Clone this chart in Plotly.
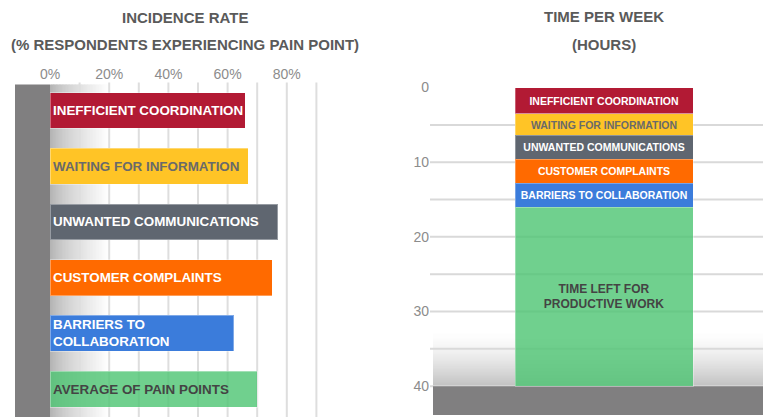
import plotly.graph_objects as go

# ---------------- data ----------------
pain_keys = ["coord", "waiting", "unwanted", "complaints", "barriers", "average"]
pain_labels = ["INEFFICIENT COORDINATION", "WAITING FOR INFORMATION",
               "UNWANTED COMMUNICATIONS", "CUSTOMER COMPLAINTS",
               "BARRIERS TO<br>COLLABORATION", "AVERAGE OF PAIN POINTS"]
incidence_pct = [66, 67, 77, 75, 62, 70]

time_labels = ["INEFFICIENT COORDINATION", "WAITING FOR INFORMATION",
               "UNWANTED COMMUNICATIONS", "CUSTOMER COMPLAINTS",
               "BARRIERS TO COLLABORATION", "TIME LEFT FOR<br>PRODUCTIVE WORK"]
hours_per_week = [3.5, 2.9, 3.2, 3.2, 3.2, 24.0]

pct_ticks = [0, 20, 40, 60, 80]
pct_tick_labels = ["0%", "20%", "40%", "60%", "80%"]
hour_ticks = [0, 10, 20, 30, 40]

# ---------------- styles ----------------
colors = ["#B21A34", "#FFC426", "#5F6670", "#FF6A00", "#3B7CDB", "rgba(76,196,114,0.8)"]
text_colors = ["white", "#6A6A6A", "white", "white", "white", "#444444"]
FONT = "Liberation Sans, Arial, sans-serif"
W, H = 763, 417

# left plot geometry (px)
L_x0, L_x1 = 15, 331
L_top = 81
px_per_pct = 2.96
x_min = -(50 - L_x0) / px_per_pct
x_max = x_min + (L_x1 - L_x0) / px_per_pct

# right plot geometry (px)
R_x0 = 430
R_top = 80
px_per_hr = (386 - 86) / 40.0
y_top = 0 - (86 - R_top) / px_per_hr
y_bot = 40 + (H - 386) / px_per_hr
bar_left, bar_right = 515, 693
k = bar_right - bar_left
xr0 = -((bar_left + bar_right) / 2 - R_x0) / k
xr1 = (W - (bar_left + bar_right) / 2) / k

fig = go.Figure()

fig.add_trace(go.Bar(
    x=incidence_pct, y=pain_keys, orientation="h",
    marker=dict(color=colors, line=dict(color="rgba(255,255,255,0.35)", width=1)),
    xaxis="x", yaxis="y", hoverinfo="skip", showlegend=False,
))

for i, (lab, h) in enumerate(zip(time_labels, hours_per_week)):
    fig.add_trace(go.Bar(
        x=["week"], y=[h], width=1,
        marker=dict(color=colors[i], line=dict(color="rgba(255,255,255,0.3)", width=1)),
        text=[lab], textposition="inside", insidetextanchor="middle", textangle=0,
        textfont=dict(family=FONT, size=12 if i == 5 else 10.5, color=text_colors[i], weight="bold"),
        xaxis="x2", yaxis="y2", hoverinfo="skip", showlegend=False,
    ))

shapes = []
# left floor gradient
N = 40
for j in range(N):
    t = (j + 0.5) / N
    c = int(round(176 + 79 * t ** 0.7))
    shapes.append(dict(type="rect", xref="x", yref="y domain", layer="below",
                       x0=20 * j / N, x1=20 * (j + 1.6) / N, y0=0, y1=0.994,
                       fillcolor=f"rgb({c},{c},{c})", line=dict(width=0)))
# left gridlines
for v in range(10, 100, 10):
    shapes.append(dict(type="line", xref="x", yref="y domain", layer="below",
                       x0=v, x1=v, y0=0, y1=1, line=dict(color="#DEDEDE", width=2)))
# left wall
shapes.append(dict(type="rect", xref="x", yref="y domain", layer="below",
                   x0=x_min, x1=0, y0=0, y1=0.994, fillcolor="#807F80", line=dict(width=0)))

# right floor gradient
g0 = 32.5
M = 40
step = (40 - g0) / M
for j in range(M):
    t = (j + 0.5) / M
    c = int(round(255 - 62 * t ** 1.5))
    shapes.append(dict(type="rect", xref="x2 domain", yref="y2", layer="below",
                       x0=0.009, x1=1, y0=g0 + step * j, y1=min(40, g0 + step * (j + 1.8)),
                       fillcolor=f"rgb({c},{c},{c})", line=dict(width=0)))
# right gridlines
for v in range(5, 45, 5):
    shapes.append(dict(type="line", xref="x2 domain", yref="y2", layer="below",
                       x0=0, x1=1, y0=v, y1=v, line=dict(color="#D9D9D9", width=2)))
# right floor
shapes.append(dict(type="rect", xref="x2 domain", yref="y2", layer="below",
                   x0=0.009, x1=1, y0=40, y1=40 + 29 / px_per_hr,
                   fillcolor="#807F80", line=dict(width=0)))

title_font = dict(family=FONT, size=15, color="#5A5A5A", weight="bold")
annotations = []
for txt, cx, cy in [("INCIDENCE RATE", 185, 16), ("(% RESPONDENTS EXPERIENCING PAIN POINT)", 185, 43),
                    ("TIME PER WEEK", 603.5, 15), ("(HOURS)", 603.5, 43)]:
    annotations.append(dict(text=txt, xref="paper", yref="paper", x=cx / W, y=1 - cy / H,
                            xanchor="center", yanchor="middle", showarrow=False, font=title_font))

# labels inside the left bars (left aligned)
for key, lab, tc in zip(pain_keys, pain_labels, text_colors):
    annotations.append(dict(text=lab, xref="x", yref="y", x=0, y=key, xanchor="left",
                            yanchor="middle", xshift=1, align="left", showarrow=False,
                            font=dict(family=FONT, size=13.4, color=tc, weight="bold")))

tick_font = dict(family=FONT, size=14, color="#8C8C8C")

fig.update_layout(
    width=W, height=H, margin=dict(l=0, r=0, t=0, b=0),
    paper_bgcolor="white", plot_bgcolor="rgba(0,0,0,0)",
    barmode="stack", bargap=0.357,
    shapes=shapes, annotations=annotations,
    xaxis=dict(domain=[L_x0 / W, L_x1 / W], range=[x_min, x_max], side="top", anchor="y",
               tickmode="array", tickvals=pct_ticks, ticktext=pct_tick_labels,
               showgrid=False, zeroline=False,
               showline=False, ticks="", tickfont=tick_font, fixedrange=True),
    yaxis=dict(domain=[0, (H - L_top) / H], anchor="x", categoryorder="array",
               categoryarray=pain_keys, autorange="reversed", showticklabels=False,
               showgrid=False, zeroline=False, showline=False, fixedrange=True),
    xaxis2=dict(domain=[R_x0 / W, 1], range=[xr0, xr1], anchor="y2", showticklabels=False,
                showgrid=False, zeroline=False, showline=False, fixedrange=True),
    yaxis2=dict(domain=[0, (H - R_top) / H], range=[y_bot, y_top], anchor="x2",
                tickvals=hour_ticks, showgrid=False, zeroline=False, showline=False,
                ticks="", tickfont=tick_font, fixedrange=True),
)

fig.write_html("out.html", config={"displayModeBar": False},
               post_script="document.body.style.margin='0px';document.body.style.overflow='hidden';")
